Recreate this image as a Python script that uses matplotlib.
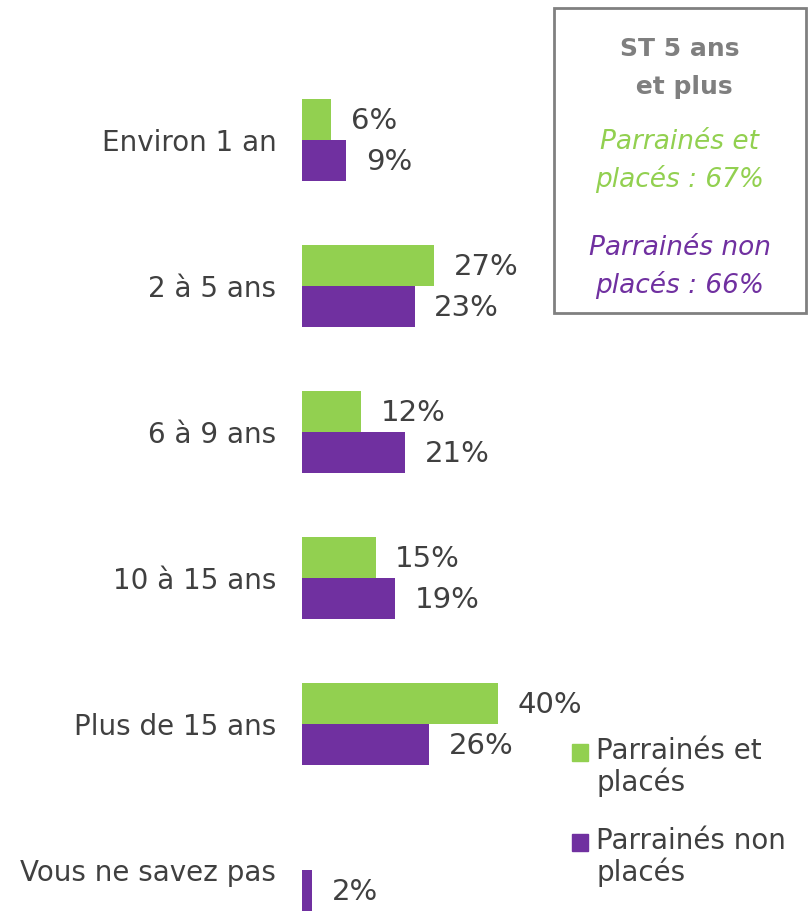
import numpy as np
import matplotlib.pyplot as plt
from matplotlib.patches import Rectangle

categories = ['Environ 1 an', '2 à 5 ans', '6 à 9 ans', '10 à 15 ans',
              'Plus de 15 ans', 'Vous ne savez pas']
places = [6, 27, 12, 15, 40, 0]        # Parrainés et placés
non_places = [9, 23, 21, 19, 26, 2]    # Parrainés non placés
series_names = ['Parrainés et\nplacés', 'Parrainés non\nplacés']

green = '#92D050'
purple = '#7030A0'
textc = '#404040'

fig = plt.figure(figsize=(8.08, 9.16), dpi=100)
ax = fig.add_axes([302 / 808, 0, 1 - 302 / 808, 1])

y = np.arange(len(categories))
h = 0.28
for i in range(len(categories)):
    if places[i] > 0:
        ax.barh(y[i] - h / 2, places[i], height=h, color=green)
        ax.text(places[i] + 4, y[i] - h / 2 + 0.01, '%d%%' % places[i],
                va='center', ha='left', fontsize=21, color=textc)
    ax.barh(y[i] + h / 2, non_places[i], height=h, color=purple)
    ax.text(non_places[i] + 4, y[i] + h / 2 + 0.01, '%d%%' % non_places[i],
            va='center', ha='left', fontsize=21, color=textc)

ax.set_xlim(0, (808 - 302) / 4.9)
ax.set_ylim((916 - 140) / 146, -140 / 146)
ax.set_yticks(y)
ax.set_yticklabels(categories, fontsize=20, color=textc)
ax.tick_params(axis='y', length=0, pad=18.5)
ax.set_xticks([])
for s in ax.spines.values():
    s.set_visible(False)

# legend
handles = [Rectangle((0, 0), 1, 1, color=green), Rectangle((0, 0), 1, 1, color=purple)]
leg = fig.legend(handles, series_names, loc='upper left', bbox_to_anchor=(572 / 808, 1 - 737 / 916),
                 frameon=False, fontsize=20, handlelength=0.58, handleheight=0.58,
                 handletextpad=0.3, labelspacing=1.06, borderaxespad=0, borderpad=0)
for t in leg.get_texts():
    t.set_color(textc)
    t.set_linespacing(1.12)
for p in leg.legend_handles:
    p.set_y(p.get_y() + 11.5)

# summary box
fig.patches.append(Rectangle((554 / 808, 1 - 313 / 916), 252 / 808, 305 / 916,
                             transform=fig.transFigure, fill=False,
                             edgecolor='#808080', lw=2))
cx = 680 / 808
fig.text(cx, 1 - 68 / 916, 'ST 5 ans\n et plus', ha='center', va='center',
         fontsize=18, fontweight='bold', color='#7F7F7F', linespacing=1.7)
fig.text(cx, 1 - 161 / 916, 'Parrainés et\nplacés : 67%', ha='center', va='center',
         fontsize=19, style='italic', color=green, linespacing=1.45)
fig.text(cx, 1 - 267 / 916, 'Parrainés non\nplacés : 66%', ha='center', va='center',
         fontsize=19, style='italic', color=purple, linespacing=1.45)

fig.savefig('out.png', dpi=100)
